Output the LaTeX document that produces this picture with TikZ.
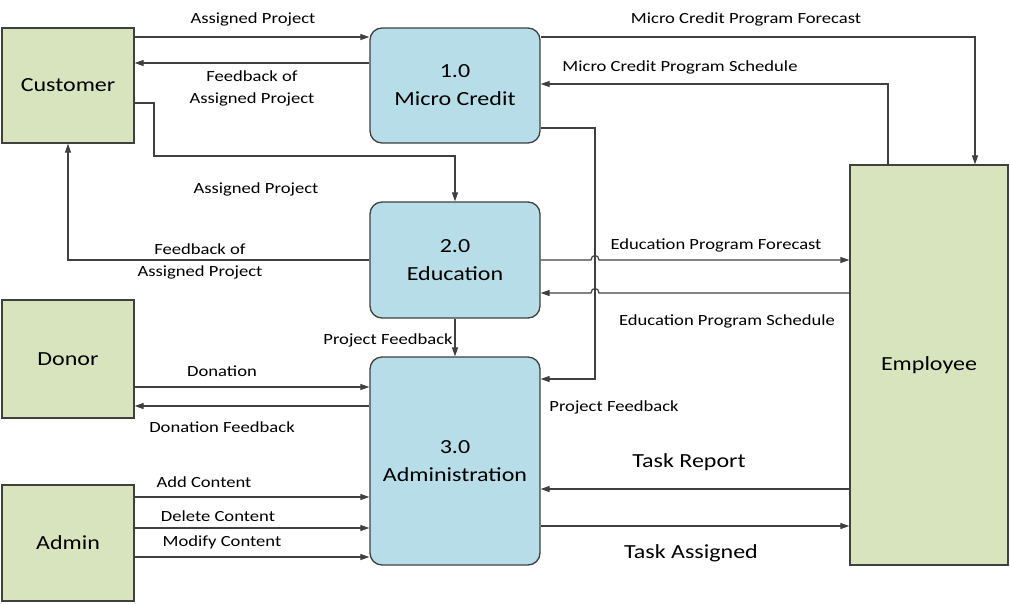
\documentclass[tikz,border=0pt]{standalone}
\usepackage{fontspec}
\setmainfont{Carlito}[FakeStretch=1.2]
\usetikzlibrary{arrows.meta}

\definecolor{entgreen}{RGB}{215,228,189}
\definecolor{procblue}{RGB}{183,221,232}
\definecolor{edgegray}{RGB}{64,64,64}

\begin{document}
\begin{tikzpicture}[x=1pt, y=-1pt,
  entity/.style={draw=edgegray, line width=1.3pt, fill=entgreen, font=\fontsize{20}{27}\selectfont},
  process/.style={draw=edgegray, line width=1.3pt, fill=procblue, rounded corners=12pt,
    align=center, minimum width=170pt, font=\fontsize{20}{28}\selectfont},
  flow/.style={draw=edgegray, line width=1.2pt, -{Triangle[length=9pt,width=6pt]}},
  lbl/.style={inner sep=0pt, align=center, yshift=-2pt, font=\fontsize{15.5}{22}\selectfont},
  biglbl/.style={inner sep=0pt, yshift=-1pt, font=\fontsize{20}{24}\selectfont}]
  \useasboundingbox (0,0) rectangle (1010,603);

  % external entities
  \node[entity, minimum width=132pt, minimum height=115pt] (customer) at (68,85.5) {Customer};
  \node[entity, minimum width=132pt, minimum height=118pt] (donor) at (68,359) {Donor};
  \node[entity, minimum width=132pt, minimum height=116pt] (admin) at (68,543) {Admin};
  \node[entity, minimum width=158pt, minimum height=400pt] (employee) at (929,365) {Employee};

  % processes
  \node[process, minimum height=115pt] (micro) at (455,85.5) {1.0\\Micro Credit};
  \node[process, minimum height=116pt] (educ) at (455,260) {2.0\\Education};
  \node[process, minimum height=208pt] (admn) at (455,461) {3.0\\Administration};

  % customer flows
  \draw[flow] (customer.east |- 0,37) -- (micro.west |- 0,37);
  \draw[flow] (micro.west |- 0,63) -- (customer.east |- 0,63);
  \draw[flow] (customer.east |- 0,103) -| (154,156) -| (educ.north);
  \draw[flow] (educ.west) -| (customer.south);
  \node[lbl] (l1) at (253,17) {Assigned Project};
  \node[lbl] (l2) at (252,86) {Feedback of\\Assigned Project};
  \node[lbl] (l3) at (256,187) {Assigned Project};
  \node[lbl] (l4) at (200,259.5) {Feedback of\\Assigned Project};

  % employee flows
  \draw[flow] (micro.east |- 0,37) -| (employee.north -| 975,0);
  \draw[flow] (employee.north -| 888,0) |- (micro.east |- 0,84);
  \draw[flow] (micro.east |- 0,128) -| (595,379) -- (admn.east |- 0,379);
  \draw[flow] (educ.east) -- (591,260) .. controls (591,254) and (599,254) .. (599,260)
    -- (employee.west |- 0,260);
  \draw[flow] (employee.west |- 0,293) -- (599,293) .. controls (599,287) and (591,287) .. (591,293)
    -- (educ.east |- 0,293);
  \draw[flow] (educ.south) -- (admn.north);
  \draw[flow] (employee.west |- 0,489) -- (admn.east |- 0,489);
  \draw[flow] (admn.east |- 0,526) -- (employee.west |- 0,526);
  \node[lbl] (l5) at (746,17) {Micro Credit Program Forecast};
  \node[lbl] (l6) at (680,65) {Micro Credit Program Schedule};
  \node[lbl] (l7) at (716,243) {Education Program Forecast};
  \node[lbl] (l8) at (727,319) {Education Program Schedule};
  \node[lbl] (l9) at (388,338) {Project Feedback};
  \node[lbl] (l10) at (614,405) {Project Feedback};
  \node[biglbl] (l11) at (689,461) {Task Report};
  \node[biglbl] (l12) at (691,552) {Task Assigned};

  % donor and admin flows
  \draw[flow] (donor.east |- 0,387) -- (admn.west |- 0,387);
  \draw[flow] (admn.west |- 0,406) -- (donor.east |- 0,406);
  \draw[flow] (admin.east |- 0,497) -- (admn.west |- 0,497);
  \draw[flow] (admin.east |- 0,528) -- (admn.west |- 0,528);
  \draw[flow] (admin.east |- 0,557) -- (admn.west |- 0,557);
  \node[lbl] (l13) at (222,369) {Donation};
  \node[lbl] (l14) at (222,425) {Donation Feedback};
  \node[lbl] (l15) at (204,480) {Add Content};
  \node[lbl] (l16) at (218,514) {Delete Content};
  \node[lbl] (l17) at (222,540) {Modify Content};
\end{tikzpicture}
\end{document}
